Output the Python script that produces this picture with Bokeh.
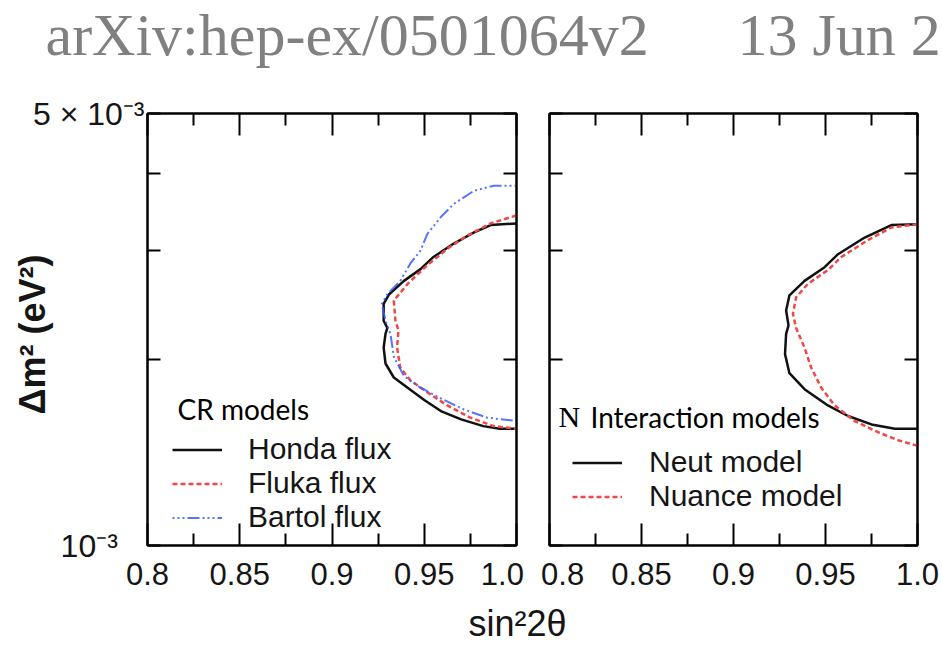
from bokeh.plotting import figure
from bokeh.models import FixedTicker, LinearAxis, LogAxis, Label, Legend, LegendItem, Range1d
from bokeh.layouts import column, row
from bokeh.embed import file_html
from bokeh.resources import INLINE

NB = "\u00a0"

# ---------------- data ----------------
x_ticks = [0.8, 0.85, 0.9, 0.95, 1.0]
x_minor_ticks = [0.825, 0.875, 0.925, 0.975]
x_tick_labels = ["0.8", "0.85", "0.9", "0.95", "1.0"]
y_ticks = [0.001, 0.002, 0.003, 0.004, 0.005]
y_tick_labels = ["10⁻³", "", "", "", "5 × 10⁻³"]

cr_names = ["Honda flux", "Fluka flux", "Bartol flux"]
int_names = ["Neut model", "Nuance model"]

honda_x = [1.0, 0.986, 0.977, 0.966, 0.955, 0.948, 0.939, 0.931, 0.928, 0.928, 0.930,
           0.929, 0.928, 0.929, 0.9335, 0.941, 0.950, 0.959, 0.970, 0.982, 0.991, 1.0]
honda_y = [0.00332, 0.00330, 0.00321, 0.00308, 0.00293, 0.00280, 0.00268, 0.00255, 0.00246,
           0.00231, 0.00225, 0.00220, 0.00209, 0.00197, 0.00187, 0.00180, 0.00172, 0.00165,
           0.00160, 0.00156, 0.001545, 0.001545]

fluka_x = [1.0, 0.986, 0.973, 0.9625, 0.9516, 0.941, 0.9335, 0.9344, 0.936, 0.9353, 0.937,
           0.9425, 0.9516, 0.9625, 0.975, 0.9877, 1.0]
fluka_y = [0.00342, 0.00332, 0.00317, 0.00302, 0.00284, 0.00265, 0.00249, 0.00231, 0.00223,
           0.00209, 0.00194, 0.00185, 0.00177, 0.001685, 0.00161, 0.00156, 0.001545]

bartol_x = [1.0, 0.9877, 0.977, 0.966, 0.959, 0.9516, 0.948, 0.9425, 0.937, 0.930, 0.927,
            0.929, 0.9317, 0.9335, 0.939, 0.948, 0.959, 0.9715, 0.984, 1.0]
bartol_y = [0.00382, 0.00382, 0.00375, 0.00357, 0.00340, 0.00319, 0.00300, 0.00286, 0.00268,
            0.00255, 0.00246, 0.00231, 0.00220, 0.00202, 0.00188, 0.00180, 0.00173, 0.00166,
            0.00161, 0.00159]

neut_x = [1.0, 0.9858, 0.9713, 0.9568, 0.9495, 0.9386, 0.9304, 0.9286, 0.9299, 0.9286, 0.928,
          0.9304, 0.9386, 0.9513, 0.9622, 0.975, 0.9877, 1.0]
neut_y = [0.00331, 0.00330, 0.00315, 0.00296, 0.00282, 0.00268, 0.00254, 0.00240, 0.00227,
          0.00220, 0.00204, 0.00190, 0.00179, 0.001685, 0.00162, 0.00157, 0.001545, 0.001545]

nuance_x = [1.0, 0.9858, 0.9731, 0.9586, 0.9513, 0.9404, 0.934, 0.9323, 0.934, 0.9386, 0.9422,
            0.9477, 0.955, 0.9658, 0.9786, 0.9895, 1.0]
nuance_y = [0.00331, 0.00327, 0.00312, 0.00293, 0.00279, 0.00265, 0.00252, 0.00237, 0.00225,
            0.00209, 0.00194, 0.00180, 0.001685, 0.00159, 0.001525, 0.00148, 0.00145]

# ---------------- styling ----------------
SANS = "Liberation Sans"
INK = "#151515"
BLACK = "#111111"
RED = "#f04848"
BLUE = "#3a5cff"


def make_panel(width, border_left, border_right, x_over, y_over):
    p = figure(width=width, height=520, title=None,
               x_range=Range1d(0.8, 1.0), y_range=Range1d(0.001, 0.005),
               y_axis_type="log", output_backend="svg", toolbar_location=None,
               min_border_left=border_left, min_border_right=border_right,
               min_border_top=35, min_border_bottom=53)
    p.grid.visible = False
    p.outline_line_color = "black"
    p.outline_line_width = 2
    p.background_fill_color = "white"
    p.border_fill_color = "white"
    xt = FixedTicker(ticks=x_ticks, minor_ticks=x_minor_ticks)
    yt = FixedTicker(ticks=y_ticks, minor_ticks=[])
    p.xaxis.ticker = xt
    p.yaxis.ticker = yt
    p.xaxis.major_label_overrides = x_over
    p.yaxis.major_label_overrides = y_over
    top = LinearAxis(ticker=xt, major_label_overrides={t: "" for t in x_ticks})
    right = LogAxis(ticker=yt, major_label_overrides={t: "" for t in y_ticks})
    p.add_layout(top, "above")
    p.add_layout(right, "right")
    for ax in p.xaxis:
        ax.major_tick_in = 22
        ax.major_tick_out = 0
        ax.minor_tick_in = 12
        ax.minor_tick_out = 0
    for ax in p.yaxis:
        ax.major_tick_in = 13
        ax.major_tick_out = 0
        ax.minor_tick_in = 0
        ax.minor_tick_out = 0
    for ax in p.axis:
        ax.axis_line_width = 2
        ax.axis_line_color = "black"
        ax.major_tick_line_width = 2
        ax.major_tick_line_color = "black"
        ax.minor_tick_line_width = 2
        ax.minor_tick_line_color = "black"
        ax.major_label_text_font = SANS
        ax.major_label_text_color = INK
    p.below[0].major_label_text_font_size = "31px"
    p.below[0].major_label_standoff = 11
    p.left[0].major_label_text_font_size = "32px"
    p.left[0].major_label_standoff = 3
    for ax in (top, right):
        ax.major_label_text_font_size = "1px"
        ax.major_label_standoff = 0
    return p


def make_legend(items, loc, standoff):
    lg = Legend(items=items, location=loc, label_text_font=SANS, label_text_font_size="30px",
                label_text_color=INK, glyph_width=50, glyph_height=33, label_height=33,
                spacing=0, padding=0, margin=0, label_standoff=standoff,
                background_fill_alpha=0, border_line_alpha=0)
    return lg


# left panel
xl_left = dict(zip(x_ticks, x_tick_labels))
xl_left[1.0] = x_tick_labels[4] + NB
yl_left = dict(zip(y_ticks, y_tick_labels))
yl_left[0.001] = y_tick_labels[0] + NB * 3

left = make_panel(532, 147, 16, xl_left, yl_left)
left.left[0].axis_label = "Δm² (eV²)" + NB
left.left[0].axis_label_text_font = SANS
left.left[0].axis_label_text_font_size = "36px"
left.left[0].axis_label_text_font_style = "bold"
left.left[0].axis_label_text_color = INK
left.left[0].axis_label_standoff = -23

r1 = left.line(honda_x, honda_y, line_color=BLACK, line_width=2.5)
r2 = left.line(fluka_x, fluka_y, line_color=RED, line_width=2.5, line_dash="5 3")
r3 = left.line(bartol_x, bartol_y, line_color=BLUE, line_width=2, line_alpha=0.85,
               line_dash="2 3 2 3 2 3 12 3")
left.add_layout(make_legend([LegendItem(label=cr_names[0], renderers=[r1]),
                             LegendItem(label=cr_names[1], renderers=[r2]),
                             LegendItem(label=cr_names[2], renderers=[r3])], (25, 11), 26))
left.add_layout(Label(x=30, y=137, x_units="screen", y_units="screen", text="CR models",
                      text_font="Lato", text_font_size="28px", text_color="black",
                      text_baseline="middle"))

# right panel
xl_right = dict(zip(x_ticks, x_tick_labels))
xl_right[0.8] = NB + x_tick_labels[0]
yl_right = {t: "" for t in y_ticks}

right = make_panel(410, 17, 25, xl_right, yl_right)
r4 = right.line(neut_x, neut_y, line_color=BLACK, line_width=2.5)
r5 = right.line(nuance_x, nuance_y, line_color=RED, line_width=2.5, line_dash="5 3")
right.add_layout(make_legend([LegendItem(label=int_names[0], renderers=[r4]),
                              LegendItem(label=int_names[1], renderers=[r5])], (23, 32), 27))
right.add_layout(Label(x=9, y=129, x_units="screen", y_units="screen", text="N",
                       text_font="Liberation Serif", text_font_size="30px", text_color="black",
                       text_baseline="middle"))
right.add_layout(Label(x=41, y=129, x_units="screen", y_units="screen", text="Interaction models",
                       text_font="Lato", text_font_size="28px", text_color="black",
                       text_baseline="middle"))


def blank(width, height):
    f = figure(width=width, height=height, title=None, x_range=Range1d(0, 1), y_range=Range1d(0, 1),
               x_axis_location=None, y_axis_location=None, output_backend="svg",
               toolbar_location=None, min_border=0)
    f.grid.visible = False
    f.outline_line_color = None
    f.background_fill_color = "white"
    f.border_fill_color = "white"
    return f


header = blank(942, 78)
header.add_layout(Label(x=45, y=44, x_units="screen", y_units="screen",
                        text="arXiv:hep-ex/0501064v2", text_font="Liberation Serif",
                        text_font_size="60px", text_color="#808080", text_baseline="middle"))
header.add_layout(Label(x=737, y=44, x_units="screen", y_units="screen",
                        text="13 Jun 2", text_font="Liberation Serif",
                        text_font_size="60px", text_color="#808080", text_baseline="middle"))

xlab = blank(942, 46)
xlab.add_layout(Label(x=517, y=21, x_units="screen", y_units="screen", text="sin²2θ",
                      text_align="center", text_baseline="middle", text_font=SANS,
                      text_font_size="36px", text_color=INK))

p = column(header, row(left, right), xlab)

open("out.html", "w").write(file_html(p, INLINE))
